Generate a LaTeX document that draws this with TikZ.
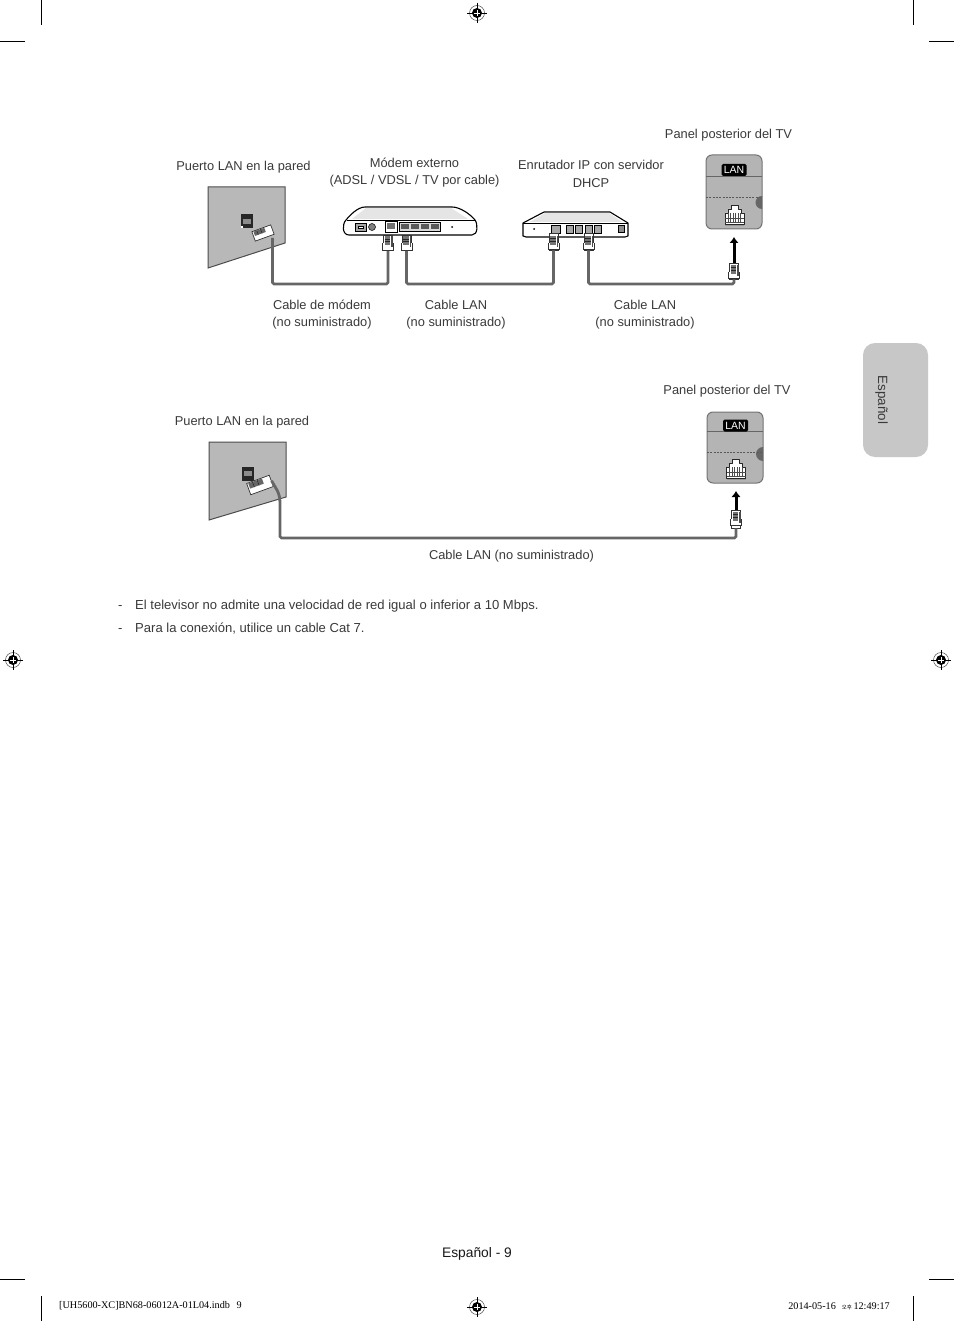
\documentclass[tikz,border=0pt]{standalone}
\usepackage{fontspec}
\setmainfont{Liberation Sans}
\newfontfamily\serifx{Liberation Serif}
\newfontfamily\cjkx{Noto Sans CJK KR}
\definecolor{txt}{HTML}{3A3A3A}
\definecolor{wallgray}{HTML}{B8B8B8}
\definecolor{tvgray}{HTML}{B4B4B4}
\definecolor{cablegray}{HTML}{666666}
\tikzset{
  lbl/.style={font=\fontsize{12.85}{17.5}\selectfont,text=txt,align=center,inner sep=0pt},
  lblleft/.style={lbl,font=\fontsize{13.05}{18}\selectfont,anchor=base west,align=left},
  tiny/.style={font=\serifx\fontsize{10.2}{11}\selectfont,text=black,inner sep=0pt},
  crop/.style={draw=black,line width=0.7pt},
  cable/.style={draw=cablegray,line width=2.8pt,rounded corners=1.5pt},
  wall/.style={draw=black!70,fill=wallgray,line width=1pt},
  plugbox/.style={draw=black!80,fill=white,line width=.7pt,minimum width=10pt,minimum height=15pt,inner sep=0pt,rectangle},
  device/.style={draw=black,line width=1.1pt,fill=white,line join=round},
  port/.style={draw=black,fill=black!35,line width=.6pt},
  panel/.style={draw=black!55,fill=tvgray,line width=1pt,rounded corners=6pt},
  lanbox/.style={fill=black,text=white,rounded corners=1.5pt,inner sep=0pt,minimum width=25pt,minimum height=12pt,font=\fontsize{10.5}{10}\selectfont},
  arrowup/.style={draw=black,line width=3pt,-{Latex[length=6pt,width=9.5pt]}},
}
\usetikzlibrary{arrows.meta}
\newcommand{\regmark}[2]{%
  \draw[black!70,line width=.5pt] (#1,#2) circle (7.5);
  \fill[black] (#1,#2) circle (5);
  \draw[white,line width=.7pt] (#1-5,#2)--(#1+5,#2) (#1,#2-5)--(#1,#2+5);
  \draw[black,line width=.7pt] (#1-10,#2)--(#1-3,#2) (#1+3,#2)--(#1+10,#2) (#1,#2-10)--(#1,#2-3) (#1,#2+3)--(#1,#2+10);
}
% plug: detail drawn over the body node, center x, top y
\newcommand{\plugdetail}[2]{%
  \fill[white] (#1-5.5,#2+8) rectangle (#1+5.5,#2+15);
  \draw[black!80,line width=.6pt] (#1-5.5,#2+8) -- (#1-5.5,#2+14.5) -- (#1+5.5,#2+14.5) -- (#1+5.5,#2+8);
  \fill[black!55] (#1-3.5,#2+1) rectangle (#1+2,#2+10);
  \draw[black!85,line width=.5pt] (#1-3.5,#2+3.5)--(#1+2,#2+3.5) (#1-3.5,#2+6)--(#1+2,#2+6);
  \fill[black!70] (#1+3,#2+1) rectangle (#1+4.5,#2+12);
}
\newcommand{\jack}[2]{% center
  \begin{scope}[shift={(#1,#2)}]
    \fill[black!40] (-9.5,6) rectangle (9.5,11);
    \draw[black!85,fill=white,line width=.7pt,line join=round] (-9.5,9)--(-9.5,-2)--(-6.5,-2)--(-6.5,-6)--(-3.5,-6)--(-3.5,-9.5)--(3.5,-9.5)--(3.5,-6)--(6.5,-6)--(6.5,-2)--(9.5,-2)--(9.5,9)--cycle;
    \foreach \q in {-6.5,-4,-1.5,1,3.5,6}{\draw[black!70,line width=.6pt] (\q,-2)--(\q,7);}
    \draw[black!70,line width=.6pt] (-9.5,3)--(9.5,3) (-9.5,7)--(9.5,7);
  \end{scope}
}
\begin{document}
\begin{tikzpicture}[x=1pt,y=-1pt]
\useasboundingbox (0,0) rectangle (954,1321);
\fill[white] (0,0) rectangle (954,1321);

% crop marks
\draw[crop] (0,41)--(25,41) (41,0)--(41,25) (913,0)--(913,25) (929,41)--(954,41)
  (0,1279)--(25,1279) (41,1296)--(41,1321) (913,1296)--(913,1321) (929,1279)--(954,1279);
\regmark{477}{13}\regmark{13}{660}\regmark{941}{660}\regmark{477}{1307}

% side tab
\fill[black!22] (863,355) arc[start angle=180,end angle=270,radius=12] -- (916,343) arc[start angle=270,end angle=360,radius=12] -- (928,445) arc[start angle=0,end angle=90,radius=12] -- (875,457) arc[start angle=90,end angle=180,radius=12] -- cycle;
\node[lbl,font=\fontsize{13.4}{18}\selectfont,rotate=-90] (tabtext) at (881.5,400) {Español};

% ---------- top diagram labels
\node[lbl] (t1) at (728.5,134.7) {Panel posterior del TV};
\node[lbl] (t2) at (243.5,166.7) {Puerto LAN en la pared};
\node[lbl] (t3) at (414.5,172.7) {Módem externo\\(ADSL / VDSL / TV por cable)};
\node[lbl] (t4) at (591,174) {Enrutador IP con servidor\\DHCP};
\node[lbl] (t5) at (322,314.5) {Cable de módem\\(no suministrado)};
\node[lbl] (t6) at (456,314.5) {Cable LAN\\(no suministrado)};
\node[lbl] (t7) at (645,314.5) {Cable LAN\\(no suministrado)};

% wall 1
\draw[wall] (208,187)--(285,187)--(285,243)--(208,268)--cycle;
\fill[black!85] (241,214) rectangle (253,228);
\fill[black!45] (243,219) rectangle (251,224);
\fill[white] (241,226) rectangle (243,228);

% modem
\draw[device] (365,207) -- (452,207) .. controls (460,207) and (470,214) .. (475,220) .. controls (478,224) and (478,235) .. (472,235) -- (349,235) .. controls (342,235) and (342,224) .. (346,220) .. controls (350,215) and (358,207) .. (365,207) -- cycle;
\fill[black!10] (366,208) -- (451,208) -- (468,219) -- (352,219) -- cycle;
\draw[black,line width=.6pt] (347,220) -- (475,220);
\draw[black,fill=black!35,line width=.5pt] (355,223) rectangle (366,231);
\draw[black,fill=white,line width=.5pt] (358,226) rectangle (363,228);
\draw[black,fill=black!50,line width=.5pt] (372,227) circle (3.5);
\draw[black,fill=white,line width=.7pt] (385,221) rectangle (397,232);
\fill[black!55] (387,223) rectangle (395,229);
\draw[black,fill=black!15,line width=.5pt] (399,222) rectangle (440,231);
\foreach \px in {401,411,421,431}{\fill[black!65] (\px,224) rectangle (\px+8,229);}
\fill[black] (452,227) circle (1);

% router
\draw[device] (544,212) -- (610,212) -- (628,223) -- (628,236) -- (625,237) -- (526,237) -- (523,236) -- (523,223) -- cycle;
\fill[black!10] (545,213) -- (609,213) -- (622,222) -- (530,222) -- cycle;
\draw[black,line width=.6pt] (523,223) -- (628,223);
\fill[black] (534,229) circle (1);
\draw[port] (551,225) rectangle (560,233);
\foreach \px in {566,575,585,594}{\draw[port] (\px,225) rectangle (\px+7.5,233);}
\draw[black,fill=black!45,line width=.5pt] (618,225) rectangle (624,232);

% plugs top
\node[plugbox,minimum width=9pt,minimum height=15pt] (m1) at (388,243) {};
\node[plugbox,minimum width=9pt,minimum height=15pt] (m2) at (406.5,243) {};
\node[plugbox,minimum width=9pt,minimum height=17pt] (r1) at (553.5,241.5) {};
\node[plugbox,minimum width=9pt,minimum height=17pt] (r2) at (588.5,241.5) {};
\node[plugbox,minimum width=9pt,minimum height=16pt] (tv1) at (734,271) {};
\plugdetail{388}{235.5}\plugdetail{406.5}{235.5}\plugdetail{553.5}{235}\plugdetail{588.5}{235}\plugdetail{734}{264}
\node[plugbox,rotate=20,minimum width=20pt,minimum height=10pt] (w1) at (263,233) {};
\fill[black!60,rotate around={20:(263,233)}] (254.5,228.5) rectangle (266,233);
\draw[black!85,line width=.5pt,rotate around={20:(263,233)}] (258,228.5)--(258,233) (262,228.5)--(262,233);

% panel 1
\draw[panel] (706,155) rectangle (762,229);
\fill[black!60] (762,209) arc[start angle=90,end angle=270,radius=6.5] -- cycle;
\draw[black!60,line width=.8pt] (706,176.5)--(762,176.5);
\draw[black!65,line width=.6pt,dashed,dash pattern=on 2pt off 1.3pt] (706,197)--(762,197);
\node[lanbox] (lan1) at (734,170) {LAN};
\jack{734.5}{215}

% cables top
\coordinate (b1) at (330,284);
\coordinate (b2) at (480,284);
\coordinate (b3) at (660,284);
\coordinate (w1end) at (272.5,238);
\draw[cable] (w1end) |- (b1) -| (m1.south);
\draw[cable] (m2.south) |- (b2) -| (r1.south);
\draw[cable] (r2.south) |- (b3) -| (tv1.south);
\coordinate (a1) at (735,237);
\draw[arrowup] (tv1.north) -- (tv1.north|-a1);

% ---------- lower diagram labels
\node[lbl] (t8) at (727,390.7) {Panel posterior del TV};
\node[lbl] (t9) at (242,421.7) {Puerto LAN en la pared};
\node[lbl] (t10) at (511.5,555.7) {Cable LAN (no suministrado)};

% wall 2
\draw[wall] (209,442)--(286,442)--(286,497)--(209,520)--cycle;
\fill[black!85] (242,467) rectangle (254,481);
\fill[black!45] (244,471) rectangle (252,476);

% panel 2
\draw[panel] (707,412) rectangle (763,483);
\fill[black!60] (763,461) arc[start angle=90,end angle=270,radius=7] -- cycle;
\draw[black!60,line width=.8pt] (707,431.5)--(763,431.5);
\draw[black!65,line width=.6pt,dashed,dash pattern=on 2pt off 1.3pt] (707,452)--(763,452);
\node[lanbox] (lan2) at (735.5,425.5) {LAN};
\jack{736}{469}

% plugs lower
\node[plugbox,minimum width=9pt,minimum height=18pt] (tv2) at (736,519) {};
\plugdetail{736}{511}
\node[plugbox,rotate=20,minimum width=24pt,minimum height=12pt] (w2) at (260,485) {};
\fill[black!60,rotate around={20:(260,485)}] (249.5,479.5) rectangle (264,485);
\draw[black!85,line width=.5pt,rotate around={20:(260,485)}] (254,479.5)--(254,485) (259,479.5)--(259,485);

% cable lower
\coordinate (b4) at (500,538);
\coordinate (w2a) at (280,505);
\draw[cable] (w2.east) .. controls (276,489) and (280,492) .. (w2a) |- (b4) -| (tv2.south);
\coordinate (a2) at (736,491);
\draw[arrowup] (tv2.north) -- (tv2.north|-a2);

% notes
\node[lblleft] (d1) at (118,609) {-};
\node[lblleft] (n1) at (135,609) {El televisor no admite una velocidad de red igual o inferior a 10 Mbps.};
\node[lblleft] (d2) at (118,632) {-};
\node[lblleft] (n2) at (135,632) {Para la conexión, utilice un cable Cat 7.};

% footer
\node[lbl,font=\fontsize{13.8}{18}\selectfont,text=black!90] (foot) at (477,1253.7) {Español - 9};
\node[tiny,anchor=west] (f1) at (59,1306) {[UH5600-XC]BN68-06012A-01L04.indb\hspace{4pt} 9};
\node[tiny,anchor=east] (f2) at (890,1306) {2014-05-16\hspace{6pt}{\cjkx\fontsize{5.5}{6}\selectfont 오후}\hspace{1.5pt}12:49:17};
\end{tikzpicture}
\end{document}
